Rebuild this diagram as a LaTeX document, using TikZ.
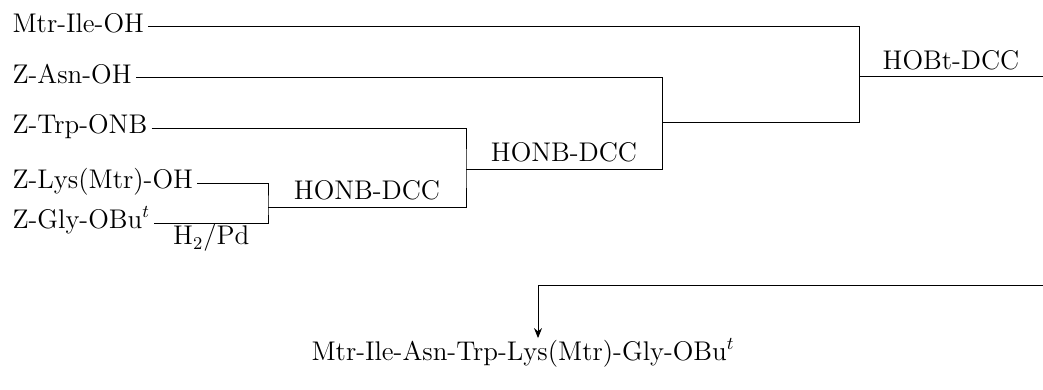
\documentclass[tikz,border=0pt]{standalone}
\usetikzlibrary{arrows.meta,positioning}
\begin{document}
\begin{tikzpicture}[x=0.5pt, y=-0.5pt, line width=0.5pt,
  every node/.style={font=\fontsize{13.5}{16}\selectfont, inner xsep=2pt, inner ysep=0pt,
    text height=0.72em, text depth=0.18em},
  reagent/.style={above=1.5pt}]
  \useasboundingbox (0,0) rectangle (1043,390);

  % Ausgangsstoffe (links)
  \foreach \nm/\y/\lbl in {ile/27/{Mtr-Ile-OH}, asn/78/{Z-Asn-OH}, trp/128/{Z-Trp-ONB},
      lys/183/{Z-Lys(Mtr)-OH}, gly/223/{Z-Gly-OBu$^t$}} {
    \node[anchor=west] (\nm) at (8,\y) {\lbl};
  }

  % Verzweigungspunkte
  \coordinate (c1) at (268,207);
  \coordinate (c2) at (466,169);
  \coordinate (c3) at (662,123);
  \coordinate (c4) at (859,77);
  \coordinate (e1) at (1043,77);
  \coordinate (e2) at (1043,285);
  \coordinate (e3) at (538,285);

  % Kupplungsschritte
  \draw (lys.east) -| (c1) |- (gly.east);
  \draw (trp.east) -| (c2) |- (c1);
  \draw (asn.east) -| (c3) |- (c2);
  \draw (ile.east) -| (c4) |- (c3);
  \draw (c4) -- (e1);

  % Reagenzien
  \path (gly.east) -- (gly.east -| c1) node[midway, below=3.5pt] (hpd) {H$_2$/Pd};
  \path (c1) -- (c1 -| c2) node[midway, reagent] (honb1) {HONB-DCC};
  \path (c2) -- (c2 -| c3) node[midway, reagent] (honb2) {HONB-DCC};
  \path (c4) -- (e1) node[midway, reagent] (hobt) {HOBt-DCC};

  % Produkt
  \node[anchor=base] (prod) at (523,360) {Mtr-Ile-Asn-Trp-Lys(Mtr)-Gly-OBu$^t$};
  \draw[-{Stealth[length=5pt,width=4pt]}, shorten >=3.5pt] (e2) -- (e3) -- (e3 |- prod.north);
\end{tikzpicture}
\end{document}
